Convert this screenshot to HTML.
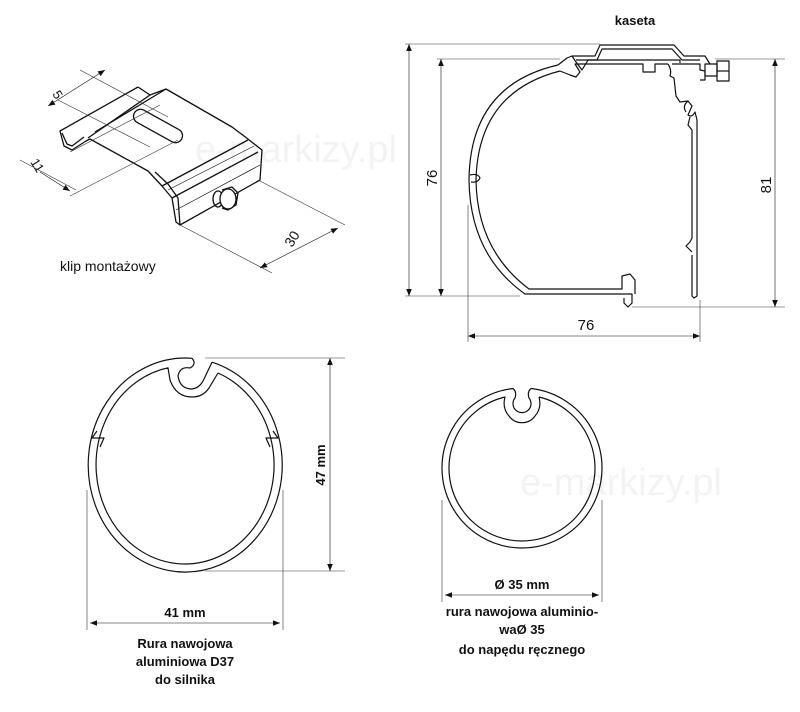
<!DOCTYPE html>
<html><head><meta charset="utf-8"><style>
html,body{margin:0;padding:0;background:#fff;}
svg{display:block;}
text{font-family:"Liberation Sans",sans-serif;fill:#111;}
</style></head><body>
<svg width="800" height="712" viewBox="0 0 800 712" xmlns="http://www.w3.org/2000/svg">
<defs>
<marker id="a" viewBox="0 0 10 10" refX="10" refY="5" markerWidth="9" markerHeight="7" orient="auto-start-reverse" markerUnits="userSpaceOnUse"><path d="M0,1 L10,5 L0,9 z" fill="#111"/></marker>
</defs>
<text x="195" y="162" font-size="38" style="fill:#f3f3f3">e-markizy.pl</text>
<text x="520" y="495" font-size="38" style="fill:#f3f3f3">e-markizy.pl</text>

<!-- ===== CLIP ===== -->
<g fill="none" stroke="#111" stroke-width="1.3" stroke-linejoin="round">
<path d="M138,87 L60,131 L64,146 L72,150 L86,141 L90,139 L148,171 L162,186 L172,198 L176,222 L180,225 L260,180 L262,150 L244,136 L232,127 L166,89 L150,95 L138,87"/>
<path d="M62,133 L67,144 L72,146 L84,137"/>
<path d="M150,95 L88,138"/>
<path d="M166,89 L95,132"/>
<path d="M180,225 L178,198 L168,184 L155,172"/>
<path d="M172,198 L258,152"/>
<path d="M162,186 L248,140"/>
<path d="M176,210 L260,165" stroke-width="0.7"/>
<path d="M168,190 L254,146" stroke-width="0.7"/>
<rect x="131" y="119" width="54" height="14" rx="7" transform="rotate(29 158 126)"/>
<ellipse cx="218" cy="199" rx="5" ry="8"/>
<path d="M222,190 L232,187 L238,193 L236,205 L228,210 L222,208"/>
<ellipse cx="228" cy="199" rx="8" ry="10" fill="#fff"/>
</g>
<g stroke="#333" stroke-width="0.6" fill="none">
<path d="M80,70 L168,117"/>
<path d="M58,100 L150,147"/>
<path d="M48,106 L105,70" marker-start="url(#a)" marker-end="url(#a)" stroke="#111"/>
<path d="M20,160 L76,190"/>
<path d="M40,172 L70,191" marker-end="url(#a)" stroke="#111"/>
<path d="M70,152 L160,105"/>
<path d="M70,196 L178,140"/>
<path d="M180,225 L272,273"/>
<path d="M258,180 L345,225"/>
<path d="M260,268 L338,228" marker-start="url(#a)" marker-end="url(#a)" stroke="#111"/>
</g>
<text font-size="13" transform="translate(52,94) rotate(58)">5</text>
<text font-size="13" transform="translate(30,162) rotate(58)">11</text>
<text font-size="14" transform="translate(292,248) rotate(-58)">30</text>
<text x="60" y="271" font-size="14">klip montażowy</text>

<!-- ===== KASETA ===== -->
<text x="635" y="25" font-size="13" font-weight="bold" text-anchor="middle">kaseta</text>
<g stroke="#333" stroke-width="0.6" fill="none">
<path d="M405,44 L600,44"/>
<path d="M437,59 L560,59"/>
<path d="M405,296 L520,296"/>
<path d="M409,44 L409,296" marker-start="url(#a)" marker-end="url(#a)" stroke="#111"/>
<path d="M441,59 L441,296" marker-start="url(#a)" marker-end="url(#a)" stroke="#111"/>
<path d="M715,59 L785,59"/>
<path d="M632,307 L785,307"/>
<path d="M775,59 L775,307" marker-start="url(#a)" marker-end="url(#a)" stroke="#111"/>
<path d="M468,205 L468,342"/>
<path d="M700,300 L700,342"/>
<path d="M468,336 L700,336" marker-start="url(#a)" marker-end="url(#a)" stroke="#111"/>
</g>
<text font-size="15" transform="translate(437,178) rotate(-90)" text-anchor="middle">76</text>
<text font-size="15" transform="translate(771,185) rotate(-90)" text-anchor="middle">81</text>
<text x="586" y="330" font-size="15" text-anchor="middle">76</text>
<g fill="none" stroke="#111" stroke-width="1.2" stroke-linejoin="round">
<path d="M558,65 Q470,85 469,180 Q470,255 525,294 L632,294 L632,303 L628,307 L624,303 L624,298"/>
<path d="M560,71 Q478,92 476,180 Q477,250 529,289 L622,289 L622,276 L630,274 L635,280 L635,294"/>
<path d="M470,175 Q478,173 480,178 Q478,183 471,182" />
<path d="M558,65 L567,58 L572,56 L576,62 L582,70 L588,60 L680,60 L680,63"/>
<path d="M560,71 L570,75 L576,77 L580,72 L575,64 L588,64 L643,64 L643,72 L655,72 L655,64 L668,64"/>
<path d="M668,64 Q672,70 670,76 L674,78 L676,96 L680,102 L688,101 L692,106 L688,115 Q692,118 695,112 L697,120 L697,296 L694,298 L692,296 L692,255"/>
<path d="M672,64 L700,64 L700,70 L705,71 L705,80 L700,80"/>
<path d="M688,101 Q682,106 686,112"/>
<path d="M692,252 L686,246 L690,242 L692,238 L692,130 L688,125 L690,117"/>
<path d="M572,56 L595,56 L600,45 L674,45 L684,56 L705,56 L710,64"/>
<path d="M576,60 L597,60 L602,49 L672,49 L682,60 L700,60"/>
<rect x="705" y="64" width="12" height="12"/>
<rect x="717" y="61" width="12" height="20"/>
<path d="M717,71 L729,71"/>
</g>

<!-- ===== LEFT TUBE ===== -->
<g fill="none" stroke="#111" stroke-width="1.2" stroke-linejoin="round">
<path d="M212,362.2 A97,107 0 1 1 192,358.3 Q197,364 190,368 Q180,366 178,376 Q180,389 192,389 Q200,388 204,379 L212,362.2"/>
<path d="M218,373 A89,99 0 1 1 168,367.8 L170,380 Q176,397 192,397 Q203,397 209,388 L218,373"/>
<path d="M97,431 L92,438 L104,438 L100,447"/>
<path d="M273,431 L278,438 L266,438 L270,447"/>
</g>
<g stroke="#333" stroke-width="0.6" fill="none">
<path d="M205,358 L345,358"/>
<path d="M205,571 L345,571"/>
<path d="M330,358 L330,571" marker-start="url(#a)" marker-end="url(#a)" stroke="#111"/>
<path d="M87,490 L87,630"/>
<path d="M283,490 L283,630"/>
<path d="M90,623 L280,623" marker-start="url(#a)" marker-end="url(#a)" stroke="#111"/>
</g>
<text font-size="13" font-weight="bold" transform="translate(325,465) rotate(-90)" text-anchor="middle">47 mm</text>
<text x="185" y="617" font-size="13" font-weight="bold" text-anchor="middle">41 mm</text>
<text x="185" y="648" font-size="13" font-weight="bold" text-anchor="middle">Rura nawojowa</text>
<text x="185" y="666" font-size="13" font-weight="bold" text-anchor="middle">aluminiowa D37</text>
<text x="185" y="684" font-size="13" font-weight="bold" text-anchor="middle">do silnika</text>

<!-- ===== RIGHT TUBE ===== -->
<g fill="none" stroke="#111" stroke-width="1.2" stroke-linejoin="round">
<path d="M531,388.5 A80,80 0 1 1 513,388.5 Q517,392 515,398 A9,9 0 1 0 529,398 Q527,392 531,388.5"/>
<path d="M539,397 A73,73 0 1 1 505,397 Q502,408 509,416 A16,16 0 0 0 535,416 Q542,408 539,397"/>
</g>
<g stroke="#333" stroke-width="0.6" fill="none">
<path d="M442,500 L442,602"/>
<path d="M602,500 L602,602"/>
<path d="M445,595 L599,595" marker-start="url(#a)" marker-end="url(#a)" stroke="#111"/>
</g>
<text x="522" y="589" font-size="13" font-weight="bold" text-anchor="middle">Ø 35 mm</text>
<text x="522" y="616" font-size="13" font-weight="bold" text-anchor="middle">rura nawojowa aluminio-</text>
<text x="522" y="634" font-size="13" font-weight="bold" text-anchor="middle">waØ 35</text>
<text x="522" y="654" font-size="13" font-weight="bold" text-anchor="middle">do napędu ręcznego</text>
</svg>
</body></html>
